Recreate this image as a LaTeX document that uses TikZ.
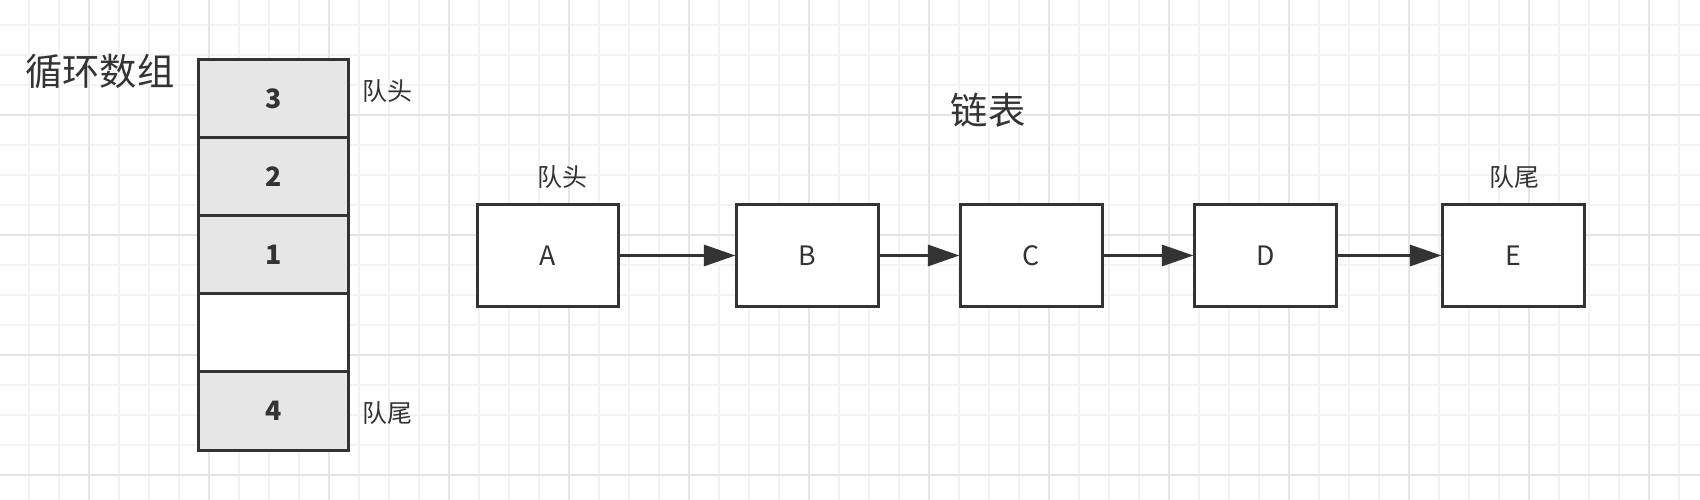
\documentclass[tikz,border=0pt]{standalone}
\usepackage{fontspec}
\setmainfont{Noto Sans CJK SC}
\usetikzlibrary{arrows.meta}
\definecolor{queueInk}{RGB}{51,51,51}
\definecolor{queueCellBg}{RGB}{230,230,230}
\definecolor{gridMinor}{RGB}{243,243,243}
\definecolor{gridMajor}{RGB}{229,229,229}
\tikzset{
    queue/.style={x=0.01cm, y=-0.01cm, >={Triangle[length=9pt, width=6pt]},
                  text=queueInk},
    cell/.style={draw=queueInk, line width=0.85pt, fill=queueCellBg,
                 minimum width=1.49cm, minimum height=0.78cm, inner sep=0pt,
                 font=\fontsize{7.6}{9}\selectfont\bfseries},
    emptycell/.style={cell, fill=white},
    listnode/.style={draw=queueInk, line width=0.85pt, fill=white,
                     minimum width=1.41cm, minimum height=1.01cm, inner sep=0pt,
                     font=\fontsize{7.6}{9}\selectfont},
    headline/.style={font=\fontsize{10.6}{12}\selectfont, inner sep=0pt},
    sidelabel/.style={font=\fontsize{7.1}{9}\selectfont, inner sep=0pt},
    link/.style={->, line width=0.85pt, draw=queueInk},
}

\begin{document}
\begin{tikzpicture}[queue]

% ─── Fond quadrillé ─────────────────────────────────────────────────────
\useasboundingbox (0,0) rectangle (1700,500);
\fill[white] (0,0) rectangle (1700,500);
\foreach \x in {29,59,...,1700}{
    \draw[gridMinor, line width=0.55pt] (\x,0) -- (\x,500);
}
\foreach \y in {25,55,...,500}{
    \draw[gridMinor, line width=0.55pt] (0,\y) -- (1700,\y);
}
\foreach \x in {89,209,...,1700}{
    \draw[gridMajor, line width=0.55pt] (\x,0) -- (\x,500);
}
\foreach \y in {115,235,...,500}{
    \draw[gridMajor, line width=0.55pt] (0,\y) -- (1700,\y);
}

% ─── Titres ─────────────────────────────────────────────────────────────
\node[headline] (arraytitle) at (100,71)  {循环数组};
\node[headline] (listtitle)  at (988,110) {链表};

% ─── Tableau circulaire ─────────────────────────────────────────────────
\node[cell]      (cell3) at (273.5,99)  {3};
\node[cell]      (cell2) at (273.5,177) {2};
\node[cell]      (cell1) at (273.5,255) {1};
\node[emptycell] (cell0) at (273.5,333) {};
\node[cell]      (cell4) at (273.5,411) {4};

\node[sidelabel, anchor=west] (arrayhead) at (362,91)  {队头};
\node[sidelabel, anchor=west] (arraytail) at (362,413) {队尾};

% ─── Liste chaînée ──────────────────────────────────────────────────────
\node[listnode] (na) at (548,255.5)    {A};
\node[listnode] (nb) at (807.5,255.5)  {B};
\node[listnode] (nc) at (1031.5,255.5) {C};
\node[listnode] (nd) at (1265.5,255.5) {D};
\node[listnode] (ne) at (1513.5,255.5) {E};

\node[sidelabel] (listhead) at (562,177)  {队头};
\node[sidelabel] (listtail) at (1514,177) {队尾};

\draw[link] (na) -- (nb);
\draw[link] (nb) -- (nc);
\draw[link] (nc) -- (nd);
\draw[link] (nd) -- (ne);

\end{tikzpicture}
\end{document}
